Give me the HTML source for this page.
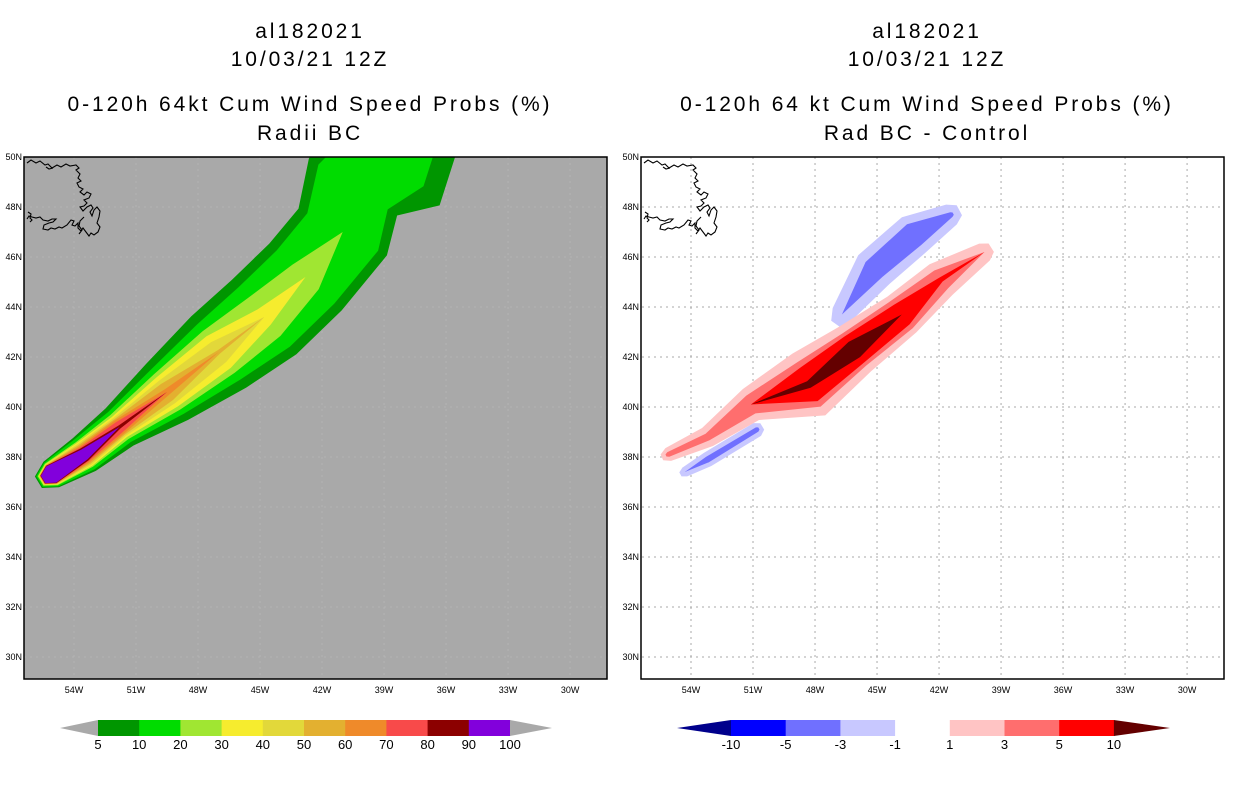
<!DOCTYPE html>
<html><head><meta charset="utf-8"><style>
body{margin:0;background:#fff;}
svg{display:block;font-family:"Liberation Sans",sans-serif;}
.t{font-size:21px;letter-spacing:2.9px;text-anchor:middle;fill:#000;}
.tk{font-size:9px;fill:#000;}
.cb{font-size:13px;text-anchor:middle;fill:#000;}
</style></head><body>
<svg id="fig" width="1236" height="800" viewBox="0 0 1236 800">
<defs>
<clipPath id="clipL"><rect x="24" y="157" width="583" height="522"/></clipPath>
<clipPath id="clipR"><rect x="641" y="157" width="583" height="522"/></clipPath>
</defs>
<g>
<text class="t" x="310" y="38">al182021</text>
<text class="t" x="310" y="66">10/03/21 12Z</text>
<text class="t" x="310" y="111">0-120h 64kt Cum Wind Speed Probs (%)</text>
<text class="t" x="310" y="140">Radii BC</text>
</g>
<g>
<text class="t" x="927" y="38">al182021</text>
<text class="t" x="927" y="66">10/03/21 12Z</text>
<text class="t" x="927" y="111">0-120h 64 kt Cum Wind Speed Probs (%)</text>
<text class="t" x="927" y="140">Rad BC - Control</text>
</g>
<rect x="24" y="157" width="583" height="522" fill="#a9a9a9"/>
<rect x="641" y="157" width="583" height="522" fill="#fff"/>
<g id="gridL" clip-path="url(#clipL)"></g>
<g id="gridR" clip-path="url(#clipR)"></g>
<g id="shapesL" clip-path="url(#clipL)"></g>
<g id="shapesR" clip-path="url(#clipR)"></g>
<g id="coasts"></g>
<rect x="24" y="157" width="583" height="522" fill="none" stroke="#000" stroke-width="1.5"/>
<rect x="641" y="157" width="583" height="522" fill="none" stroke="#000" stroke-width="1.5"/>
<g id="ticks"></g>
<g id="cbars"></g>
</svg>
<script>
const NS="http://www.w3.org/2000/svg";
// axis data
const latTicks=[30,32,34,36,38,40,42,44,46,48,50];
const lonTicks=[54,51,48,45,42,39,36,33,30];
// left panel: track centerline (lon W, lat)
const trackLon=[55.1,53.5,51.8,49.5,47.0,44.8,42.8,41.0,40.5,38.5];
const trackLat=[37.3,38.1,39.2,40.6,42.2,43.6,45.2,47.0,48.8,50.2];
const probLevels=[5,10,20,30,40,50,60,70,80,90];
const probColors=["#009600","#00dc00","#a0e632","#f6ec2e","#e2d83a","#e3b030","#ef8a2a","#f84a4a","#8c0000","#8200dc"];
// half-width of each probability contour along track (degrees lat)
const w5=[.6,.8,.93,1.4,1.8,1.97,1.97,2.0,2.1,2.8];
const w10=[.55,.72,.75,1.1,1.4,1.57,1.57,1.6,1.65,1.8];
const w20=[.5,.6,.6,.88,1.05,1.0,.72,0,0,0];
const w30=[.47,.55,.5,.72,.8,.4,0,0,0,0];
const w40=[.45,.5,.43,.55,.5,0,0,0,0,0];
const w50=[.43,.44,.37,.4,.08,0,0,0,0,0];
const w60=[.42,.38,.32,.14,0,0,0,0,0,0];
const w70=[.41,.32,.24,0,0,0,0,0,0,0];
const w80=[.40,.29,.07,0,0,0,0,0,0,0];
const w90=[.38,.23,0,0,0,0,0,0,0,0];
const probWidths=[w5,w10,w20,w30,w40,w50,w60,w70,w80,w90];
// right panel: positive difference ridge
const posLon=[55.1,53.2,51.1,48.3,46.1,43.8,41.9,39.8];
const posLat=[38.1,38.8,40.1,40.9,42.3,43.7,45.1,46.2];
const pos1=[.28,.42,.7,1.4,1.1,.92,.76,.4];
const pos3=[.1,.15,.4,1.0,.8,.7,.45,0];
const pos5=[0,0,0,.75,.65,.5,.1,0];
const pos10=[0,0,0,.15,.38,0,0,0];
// negative lobe NW
const negLon=[46.7,45.15,43.2,41.4];
const negLat=[43.7,45.5,46.9,47.7];
const neg1=[.45,.85,.85,.45];
const neg3=[0,.45,.5,.1];
// negative strip SW
const sLon=[54.3,53.2,50.8];
const sLat=[37.4,37.9,39.1];
const sneg1=[.2,.3,.3];
const sneg3=[0,.12,.1];
const leftBarLabels=["5","10","20","30","40","50","60","70","80","90","100"];
const rightBarLabels=["-10","-5","-3","-1","1","3","5","10"];
const rightBarColors=["#0000ff","#7070ff","#c8c8ff","#ffffff","#ffc4c4","#ff6e6e","#ff0000"];

const PXLON=20.67, PXLAT=25;
function xL(lon){return 74+(54-lon)*PXLON;}
function xR(lon){return 691+(54-lon)*PXLON;}
function yS(lat){return 157+(50-lat)*PXLAT;}
function mk(tag,attrs,parent){const e=document.createElementNS(NS,tag);for(const k in attrs)e.setAttribute(k,attrs[k]);parent.appendChild(e);return e;}

function ribbon(lons,lats,hw,xf){
  const n=lons.length;
  const P=lons.map((l,i)=>[xf(l),yS(lats[i])]);
  let s=-1,e=-1;
  for(let i=0;i<n;i++){if(hw[i]>0){if(s<0)s=i;e=i;}}
  if(s<0)return null;
  const a=Math.max(0,s-1), b=Math.min(n-1,e+1);
  const L=[],R=[];
  for(let i=a;i<=b;i++){
    const p=P[Math.max(i-1,a)],q=P[Math.min(i+1,b)];
    let dx=q[0]-p[0],dy=q[1]-p[1];const d=Math.hypot(dx,dy)||1;dx/=d;dy/=d;
    const h=hw[i]*PXLAT;
    L.push([P[i][0]-dy*h,P[i][1]+dx*h]);R.push([P[i][0]+dy*h,P[i][1]-dx*h]);
  }
  let pts=L.concat(R.reverse());
  if(s===0){
    const p=P[0],q=P[1];let dx=q[0]-p[0],dy=q[1]-p[1];const d=Math.hypot(dx,dy);dx/=d;dy/=d;
    const h=hw[0]*PXLAT;
    pts.push([p[0]-dx*h+dy*h*0.45,p[1]-dy*h-dx*h*0.45]);
    pts.push([p[0]-dx*h-dy*h*0.45,p[1]-dy*h+dx*h*0.45]);
  }
  if(e===n-1){
    const p=P[n-1],q=P[n-2];let dx=p[0]-q[0],dy=p[1]-q[1];const d=Math.hypot(dx,dy);dx/=d;dy/=d;
    const h=hw[n-1]*PXLAT;
    pts.splice(b-a+1,0,[p[0]+dx*h*0.8-dy*h*0.5,p[1]+dy*h*0.8+dx*h*0.5],[p[0]+dx*h*0.8+dy*h*0.5,p[1]+dy*h*0.8-dx*h*0.5]);
  }
  return pts.map(p=>p[0].toFixed(1)+","+p[1].toFixed(1)).join(" ");
}

// grids
const gL=document.getElementById('gridL'),gR=document.getElementById('gridR');
[[gL,xL,'#b4b4b4'],[gR,xR,'#aaaaaa']].forEach(([g,xf,c])=>{
  lonTicks.forEach(l=>{const ln=mk('line',{x1:xf(l),x2:xf(l),y1:157,y2:679,stroke:c,'stroke-dasharray':'2,4'},g);
    
    });
  latTicks.forEach(t=>{const ln=mk('line',{x1:0,x2:1236,y1:yS(t),y2:yS(t),stroke:c,'stroke-dasharray':'2,4'},g);
    
    });
});
// left shapes
const sL=document.getElementById('shapesL');
probWidths.forEach((w,i)=>{const pts=ribbon(trackLon,trackLat,w,xL);if(!pts)return;
  const p=mk('polygon',{points:pts,fill:probColors[i],'stroke-linejoin':'round'},sL);
  
  });
// right shapes
const sR=document.getElementById('shapesR');
const rset=[[negLon,negLat,neg1,"#c8c8ff","neg-1"],[negLon,negLat,neg3,"#7070ff","neg-3"],
 [sLon,sLat,sneg1,"#c8c8ff","sw-neg-1"],[sLon,sLat,sneg3,"#7070ff","sw-neg-3"],
 [posLon,posLat,pos1,"#ffc4c4","pos-1"],[posLon,posLat,pos3,"#ff6e6e","pos-3"],
 [posLon,posLat,pos5,"#ff0000","pos-5"],[posLon,posLat,pos10,"#640000","pos-10"]];
rset.forEach(([lo,la,w,c,n])=>{const pts=ribbon(lo,la,w,xR);if(!pts)return;
  const p=mk('polygon',{points:pts,fill:c},sR);
  
  });
// coast (Newfoundland sketch)
const coastD="M3,6 l4,-3 5,3 4,-2 5,4 3,-1 4,4 5,-3 4,2 5,-3 4,2 6,-1 3,3 -3,2 4,4 -2,4 3,3 -4,2 2,4 4,2 -3,3 4,3 3,-3 4,2 -2,4 -5,2 3,3 -3,3 -4,1 3,4 4,-4 4,-2 2,3 -3,4 2,4 2,-6 3,-3 3,4 -1,6 -2,6 3,4 -2,5 -4,3 -3,-2 -2,3 -3,-4 -3,-4 -2,3 -3,-3 0,-5 -3,3 -3,-1 2,-4 -3,-1 -4,5 -5,3 -3,-1 -4,2 -4,-1 -3,2 -5,-1 1,-4 5,-2 4,-1 3,-3 -4,0 -4,2 -5,-1 -3,-3 -4,1 -4,-1 -3,-1 -2,3 M4,55 l3,2 -1,4 2,2 -2,2 M22,10 l3,2 4,-1 M60,60 l-4,4 -1,5 3,4 -3,4";
[[24,157],[641,157]].forEach(([x,y],i)=>{const p=mk('path',{d:coastD,transform:`translate(${x},${y})`,fill:'none',stroke:'#000','stroke-width':1.1},document.getElementById('coasts'));
  
  });
// tick labels
const tk=document.getElementById('ticks');
[[22,xL],[639,xR]].forEach(([xr,xf])=>{
  latTicks.forEach(t=>{const e=mk('text',{class:'tk',x:xr,y:yS(t)+3,'text-anchor':'end'},tk);e.textContent=t+'N';
    
    });
  lonTicks.forEach(l=>{const e=mk('text',{class:'tk',x:xf(l),y:693,'text-anchor':'middle'},tk);e.textContent=l+'W';
    
    });
});
// colorbars
const cb=document.getElementById('cbars');
const lx0=98,lw=41.2,cy=720,ch=16;
let t=mk('polygon',{points:`60,${cy+8} ${lx0},${cy} ${lx0},${cy+ch}`,fill:'#a9a9a9'},cb);


probColors.forEach((c,i)=>{const r=mk('rect',{x:lx0+i*lw,y:cy,width:lw+0.5,height:ch,fill:c},cb);
  
  });
t=mk('polygon',{points:`${lx0+10*lw},${cy} ${lx0+10*lw},${cy+ch} 552,${cy+8}`,fill:'#a9a9a9'},cb);


leftBarLabels.forEach((s,i)=>{const e=mk('text',{class:'cb',x:lx0+i*lw,y:749},cb);e.textContent=s;
  
  });
const rx0=731,rw=54.7;
t=mk('polygon',{points:`677,${cy+8} ${rx0},${cy} ${rx0},${cy+ch}`,fill:'#00008c'},cb);


rightBarColors.forEach((c,i)=>{const r=mk('rect',{x:rx0+i*rw,y:cy,width:rw+0.5,height:ch,fill:c},cb);
  
  });
t=mk('polygon',{points:`${rx0+7*rw},${cy} ${rx0+7*rw},${cy+ch} 1170,${cy+8}`,fill:'#640000'},cb);


rightBarLabels.forEach((s,i)=>{const e=mk('text',{class:'cb',x:rx0+i*rw,y:749},cb);e.textContent=s;
  
  });
</script>
</body></html>
